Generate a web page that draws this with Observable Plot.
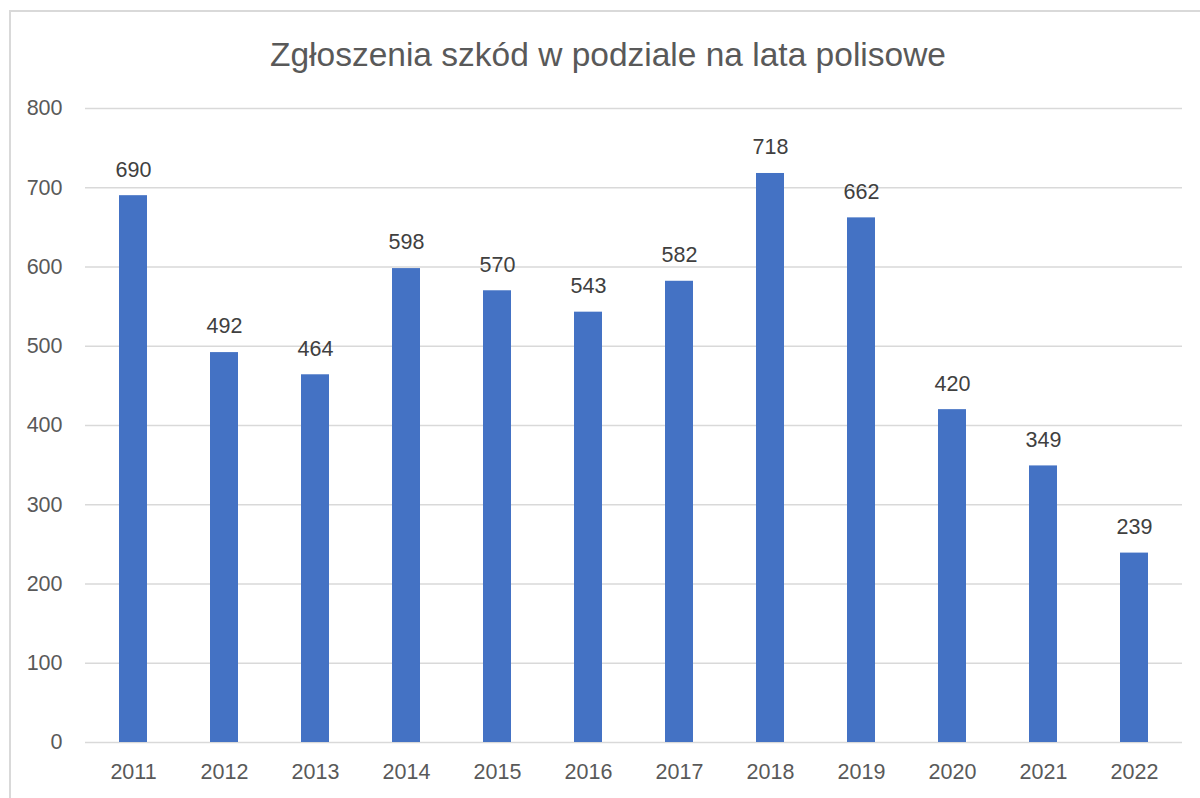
<!DOCTYPE html>
<html>
<head>
<meta charset="utf-8">
<script src="https://cdn.jsdelivr.net/npm/d3@7"></script>
<script src="https://cdn.jsdelivr.net/npm/@observablehq/plot@0.6"></script>
<style>
  html, body { margin: 0; padding: 0; width: 1200px; height: 798px; overflow: hidden; background: #fff; }
  #frame { position: absolute; left: 9px; top: 10px; width: 1300px; height: 900px; border: 2px solid #d9d9d9; box-sizing: border-box; }
  #title { position: absolute; left: 9px; top: 31px; width: 1198px; text-align: center; font-family: "Liberation Sans", Arial, sans-serif; font-size: 33.5px; color: #595959; line-height: 48px; }
  #chart { position: absolute; left: 0; top: 0; }
</style>
</head>
<body>
<div id="frame"></div>
<div id="title">Zgłoszenia szkód w podziale na lata polisowe</div>
<div id="chart"></div>
<script>
const years = ["2011","2012","2013","2014","2015","2016","2017","2018","2019","2020","2021","2022"];
const claims = [690, 492, 464, 598, 570, 543, 582, 718, 662, 420, 349, 239];
const yTicks = [0, 100, 200, 300, 400, 500, 600, 700, 800];

const data = years.map((y, i) => ({year: y, value: claims[i]}));
const font = '"Liberation Sans", Arial, sans-serif';

const chart = Plot.plot({
  width: 1200,
  height: 798,
  marginLeft: 85,
  marginRight: 18,
  marginTop: 108,
  marginBottom: 56,
  style: {fontFamily: font, fontSize: "21.5px", background: "transparent", overflow: "visible"},
  x: {domain: years, paddingInner: 0.69, paddingOuter: 0.345, label: null},
  y: {domain: [0, 800], ticks: yTicks, label: null},
  marks: [
    Plot.gridY(yTicks, {stroke: "#d9d9d9", strokeOpacity: 1, strokeWidth: 1.5}),
    Plot.axisY(yTicks, {tickSize: 0, tickPadding: 23, fontSize: 21.5, fill: "#595959", label: null}),
    Plot.axisX({tickSize: 0, tickPadding: 21, fontSize: 21.5, fill: "#595959", label: null}),
    Plot.barY(data, {x: "year", y: "value", fill: "#4472c4"}),
    Plot.text(data, {x: "year", y: "value", text: d => String(d.value), lineAnchor: "middle", dy: -26, fontSize: 21.5, fill: "#404040"})
  ]
});
document.getElementById("chart").appendChild(chart);
</script>
</body>
</html>
